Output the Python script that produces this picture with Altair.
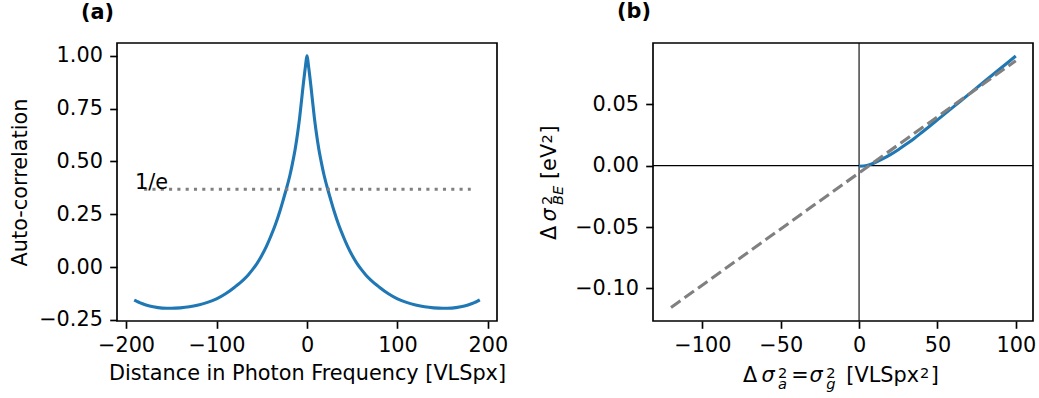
import altair as alt
import pandas as pd

FONT = "DejaVu Sans"
FS = 20.8
SFS = 14.6
BLUE = "#1f77b4"
GRAY = "#808080"

# ---------------- panel (a): auto-correlation ----------------
ac_x = [-191, -188, -185, -178, -170, -160, -150, -140, -130, -120, -110, -100,
        -90, -80, -70, -65, -60, -55, -50, -45, -40, -35, -30, -26, -23, -19,
        -16, -13, -10, -8, -6, -5, -4, -3, -2, -1, 0, 1, 2, 3, 4, 5, 6, 8, 10,
        13, 16, 19, 23, 26, 30, 35, 40, 45, 50, 55, 60, 65, 70, 80, 90, 100, 110,
        120, 130, 140, 150, 160, 170, 178, 185, 188, 191]
ac_y = [-0.156, -0.162, -0.168, -0.179, -0.188, -0.194, -0.195, -0.193, -0.188,
        -0.179, -0.167, -0.150, -0.126, -0.095, -0.059, -0.037, -0.011, 0.019,
        0.055, 0.097, 0.146, 0.200, 0.264, 0.322, 0.367, 0.432, 0.492, 0.560,
        0.645, 0.712, 0.790, 0.830, 0.868, 0.905, 0.940, 0.975, 1.000, 0.975,
        0.940, 0.905, 0.868, 0.830, 0.790, 0.712, 0.645, 0.560, 0.492, 0.432,
        0.367, 0.322, 0.264, 0.200, 0.146, 0.097, 0.055, 0.019, -0.011, -0.037,
        -0.059, -0.095, -0.126, -0.150, -0.167, -0.179, -0.188, -0.193, -0.195,
        -0.194, -0.188, -0.179, -0.168, -0.162, -0.155]
inv_e_x = [-180, 181]
inv_e_y = [0.3679, 0.3679]
inv_e_label = "1/e"
inv_e_label_pos = (-190, 0.3679)
a_xticks = [-200, -100, 0, 100, 200]
a_yticks = [-0.25, 0.0, 0.25, 0.5, 0.75, 1.0]

# ---------------- panel (b): sigma relation ----------------
blue_x = [0, 5, 10, 15, 20, 25, 30, 35, 40, 45, 50, 60, 70, 80, 90, 100]
blue_y = [-0.0005, 0.0002, 0.0024, 0.0055, 0.0090, 0.0130, 0.0174, 0.0220,
          0.0270, 0.0321, 0.0373, 0.0477, 0.0581, 0.0685, 0.0789, 0.0893]
fit_x = [-120, 100]
fit_y = [-0.1155, 0.0855]
b_xticks = [-100, -50, 0, 50, 100]
b_yticks = [-0.10, -0.05, 0.0, 0.05]

W, H = 380, 278

axis_cfg = dict(labelFont=FONT, labelFontSize=FS, titleFont=FONT, titleFontSize=FS,
                titleFontWeight="normal", labelColor="black", titleColor="black",
                tickColor="black", tickWidth=1.67, tickSize=7.3, labelPadding=7.3,
                titlePadding=8.3, grid=False, domain=False, labelFlush=False,
                labelOverlap=False)


def panel_title(t):
    return alt.TitleParams(t, anchor="start", frame="group", dx=-36, offset=3.5,
                           baseline="alphabetic", font=FONT, fontSize=FS,
                           fontWeight="bold", color="black")


df_a = pd.DataFrame({"x": ac_x, "y": ac_y})
df_e = pd.DataFrame({"x": inv_e_x, "y": inv_e_y})
df_t = pd.DataFrame({"x": [inv_e_label_pos[0]], "y": [inv_e_label_pos[1]], "t": [inv_e_label]})

xa = alt.Scale(domain=[-210, 210], nice=False, zero=False)
ya = alt.Scale(domain=[-0.255, 1.06], nice=False, zero=False)

line_a = alt.Chart(df_a).mark_line(color=BLUE, strokeWidth=3.1, interpolate="monotone").encode(
    x=alt.X("x:Q", scale=xa, axis=alt.Axis(values=a_xticks, format="d",
                                           title="Distance in Photon Frequency [VLSpx]")),
    y=alt.Y("y:Q", scale=ya, axis=alt.Axis(values=a_yticks, format=".2f",
                                           title="Auto-correlation")),
)
dotted = alt.Chart(df_e).mark_line(color=GRAY, strokeWidth=3.1, strokeDash=[3.1, 5.2]).encode(
    x=alt.X("x:Q", scale=xa), y=alt.Y("y:Q", scale=ya))
label_e = alt.Chart(df_t).mark_text(align="left", baseline="alphabetic", font=FONT,
                                    fontSize=FS, color="black").encode(
    x=alt.X("x:Q", scale=xa), y=alt.Y("y:Q", scale=ya), text="t:N")

chart_a = alt.layer(line_a, dotted, label_e).properties(
    width=W, height=H, title=panel_title("(a)"))

# panel b
df_b = pd.DataFrame({"x": blue_x, "y": blue_y})
df_f = pd.DataFrame({"x": fit_x, "y": fit_y})
xb = alt.Scale(domain=[-131.5, 111], nice=False, zero=False)
yb = alt.Scale(domain=[-0.1265, 0.0999], nice=False, zero=False)

zero_df = pd.DataFrame({"z": [0]})
vline = alt.Chart(zero_df).mark_rule(color="black", strokeWidth=1.1).encode(
    x=alt.X("z:Q", scale=xb, axis=alt.Axis(values=b_xticks, format="d", title=None)))
hline = alt.Chart(zero_df).mark_rule(color="black", strokeWidth=1.1).encode(
    y=alt.Y("z:Q", scale=yb, axis=alt.Axis(values=b_yticks, format=".2f", title=None)))
line_b = alt.Chart(df_b).mark_line(color=BLUE, strokeWidth=3.1, interpolate="monotone").encode(
    x=alt.X("x:Q", scale=xb), y=alt.Y("y:Q", scale=yb))
line_f = alt.Chart(df_f).mark_line(color=GRAY, strokeWidth=3.1, strokeDash=[11.6, 5.0]).encode(
    x=alt.X("x:Q", scale=xb), y=alt.Y("y:Q", scale=yb))


def piece(text, x, y, size=FS, italic=False, angle=0):
    return alt.Chart(alt.Data(values=[{}])).mark_text(
        text=text, font=FONT, fontSize=size, fontStyle="italic" if italic else "normal",
        align="left", baseline="alphabetic", angle=angle, color="black").encode(
        x=alt.value(x), y=alt.value(y))


XB = 339.3
xlab = [
    piece("Δ", 90, XB),
    piece("σ", 108.5, XB, italic=True),
    piece("2", 125, XB - 4.7, size=SFS),
    piece("a", 125, XB + 6.7, size=SFS, italic=True),
    piece("=", 138.2, XB),
    piece("σ", 156.5, XB, italic=True),
    piece("2", 173.2, XB - 4.7, size=SFS),
    piece("g", 173.2, XB + 6.7, size=SFS, italic=True),
    piece("[VLSpx", 193.3, XB),
    piece("2", 267, XB - 4.7, size=SFS),
    piece("]", 277.7, XB),
]
YB = -96.6
Y0 = 197.0
ylab = [
    piece("Δ", YB, Y0, angle=270),
    piece("σ", YB, Y0 - 18.5, italic=True, angle=270),
    piece("2", YB - 4.7, Y0 - 35, size=SFS, angle=270),
    piece("BE", YB + 6.7, Y0 - 35, size=SFS, italic=True, angle=270),
    piece("[eV", YB, Y0 - 61, angle=270),
    piece("2", YB - 4.7, Y0 - 96.5, size=SFS, angle=270),
    piece("]", YB, Y0 - 106.5, angle=270),
]

chart_b = alt.layer(vline, hline, line_b, line_f, *xlab, *ylab).properties(
    width=W, height=H, title=panel_title("(b)"))

chart = alt.hconcat(chart_a, chart_b, spacing=29).properties(
    padding={"left": 8, "top": 0, "right": 0, "bottom": 0}
).configure_axis(**axis_cfg).configure_view(stroke="black", strokeWidth=1.67)

chart.save("out.html", embed_options={"renderer": "svg", "actions": False})
